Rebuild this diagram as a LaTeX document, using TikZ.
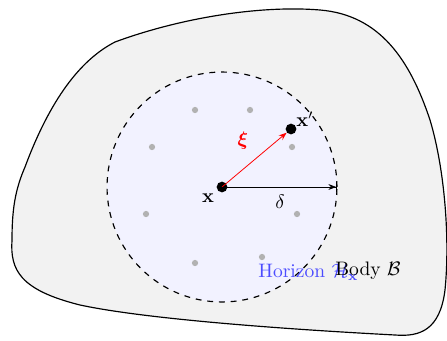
\documentclass[tikz,border=0pt]{standalone}
\usepackage{amsmath,bm}
\usetikzlibrary{arrows.meta}
\begin{document}
\begin{tikzpicture}[x=0.018cm,y=-0.018cm,
  griddot/.style={fill=gray!60,circle,inner sep=0pt,minimum size=3.2pt},
  bigdot/.style={fill=black,circle,inner sep=0pt,minimum size=5.5pt}]
\useasboundingbox (0,0) rectangle (447,340);
\draw[fill=gray!10,line width=0.6pt]
  (25,167) .. controls (50,100) and (80,60) .. (115,42)
  .. controls (180,18) and (260,5) .. (320,10)
  .. controls (380,15) and (410,60) .. (430,120)
  .. controls (445,170) and (450,240) .. (445,290)
  .. controls (440,330) and (420,337) .. (395,335)
  .. controls (300,330) and (150,320) .. (80,305)
  .. controls (20,290) and (10,270) .. (12,240)
  .. controls (12,210) and (15,190) .. (25,167) -- cycle;
\coordinate (c) at (222,187);
\draw[dashed,fill=blue!5,line width=0.6pt] (c) circle[radius=2.07cm];
\foreach \p in {(195,110),(250,110),(152,147),(292,147),(146,214),(297,214),(195,263),(262,257)}
  \node[griddot] at \p {};
\node[bigdot] (x) at (c) {};
\node[bigdot] (xp) at (291,129) {};
\coordinate (r) at (337,187);
\draw[red,-{Stealth[length=4pt,width=3pt]}] (x.center) -- (xp);
\draw[-{Stealth[length=4pt,width=3pt]Bar[width=5pt]}] (x.center) -- (r);
\node (lx) at (208,198) {$\mathbf{x}$};
\node (lxp) at (305,119) {$\mathbf{x}'$};
\node[red] (lxi) at (243,141) {$\bm{\xi}$};
\node (ld) at (280,202) {$\delta$};
\node[blue!70,anchor=west,inner sep=0pt] (hor) at (258,272) {Horizon $\mathcal{H}_\mathbf{x}$};
\node[anchor=west,inner sep=0pt] (body) at (335,271) {Body $\mathcal{B}$};
\end{tikzpicture}
\end{document}
